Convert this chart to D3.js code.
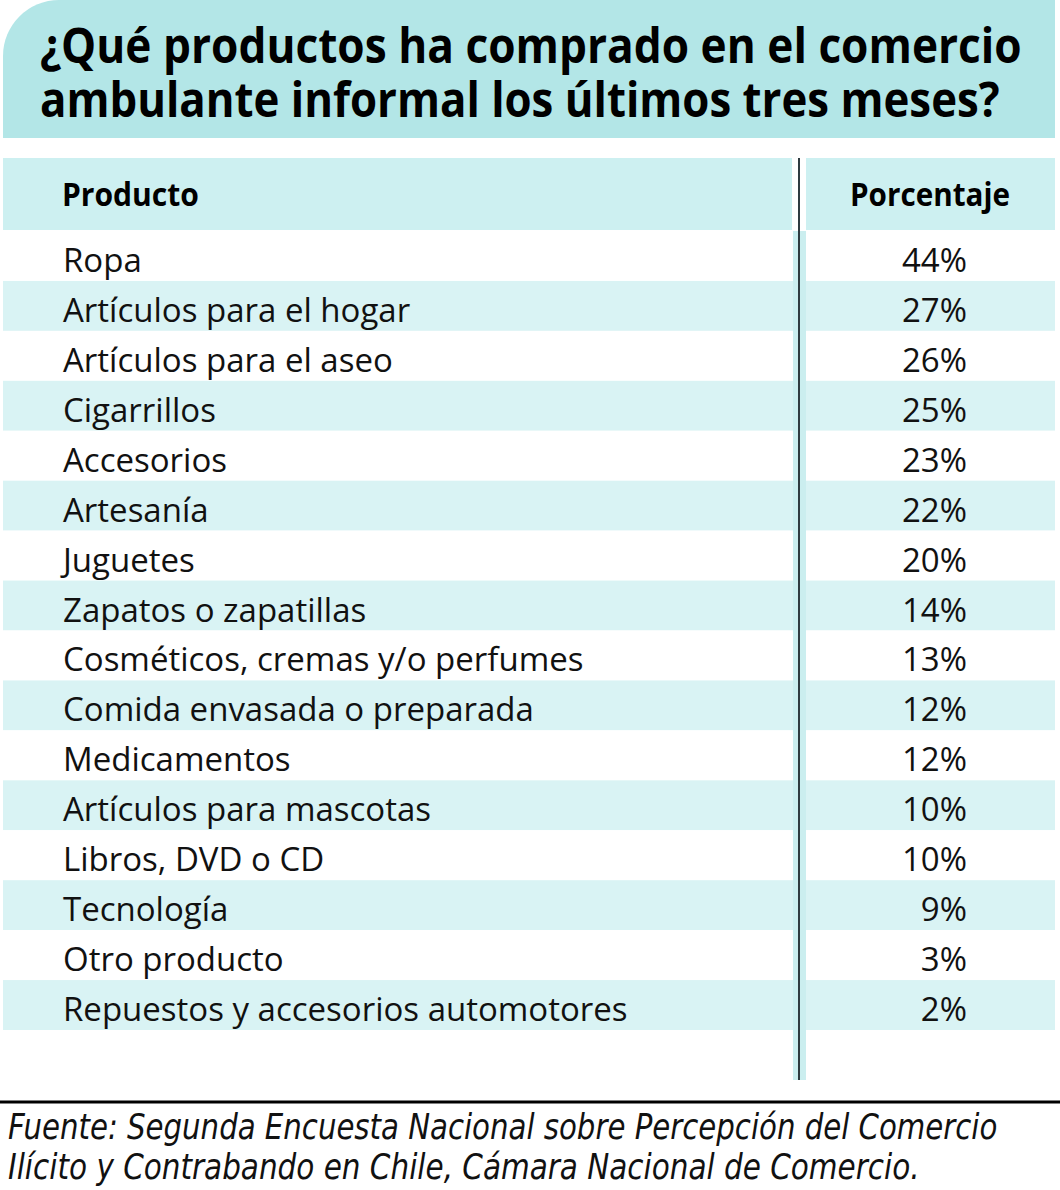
<!DOCTYPE html>
<html>
<head>
<meta charset="utf-8">
<script src="https://cdn.jsdelivr.net/npm/d3@7"></script>
<style>
  body { margin: 0; background: #fff; }
  svg { display: block; }
</style>
</head>
<body>
<div id="chart"></div>
<script>

// datos de la tabla
var titleLines = ["¿Qué productos ha comprado en el comercio",
                  "ambulante informal los últimos tres meses?"];
var headers = ["Producto", "Porcentaje"];
var products = ["Ropa", "Artículos para el hogar", "Artículos para el aseo", "Cigarrillos",
    "Accesorios", "Artesanía", "Juguetes", "Zapatos o zapatillas",
    "Cosméticos, cremas y/o perfumes", "Comida envasada o preparada", "Medicamentos",
    "Artículos para mascotas", "Libros, DVD o CD", "Tecnología", "Otro producto",
    "Repuestos y accesorios automotores"];
var percentages = [44, 27, 26, 25, 23, 22, 20, 14, 13, 12, 12, 10, 10, 9, 3, 2];
var sourceLines = ["Fuente: Segunda Encuesta Nacional sobre Percepción del Comercio",
                   "Ilícito y Contrabando en Chile, Cámara Nacional de Comercio."];

var width = 1060, height = 1190;

var svg = d3.select("#chart").append("svg")
    .attr("width", width)
    .attr("height", height);

// estrecha un texto en horizontal hasta el ancho pedido
function fitWidth(sel, widths) {
    sel.each(function (d, i) {
        var t = d3.select(this);
        var w = this.getComputedTextLength();
        var x = +t.attr("x"), yy = +t.attr("y");
        var k = widths[i] / w;
        t.attr("x", 0).attr("y", 0)
            .attr("transform", "translate(" + x + "," + yy + ") scale(" + k + ",1)");
    });
}

// caja del titulo con esquina redondeada
var r = 56;
svg.append("path")
    .attr("d", "M3,138 L3," + r + " A" + r + "," + r + " 0 0 1 " + (3 + r) + ",0 L1055,0 L1055,138 Z")
    .attr("fill", "#b3e6e7");

svg.selectAll(".title")
    .data(titleLines)
    .enter().append("text")
    .attr("class", "title")
    .attr("x", 40)
    .attr("y", function (d, i) { return 63 + i * 54; })
    .style("font-family", "'Open Sans', sans-serif")
    .style("font-weight", 700)
    .style("font-size", "48px")
    .attr("fill", "#000")
    .text(function (d) { return d; })
    .call(fitWidth, [982, 960]);

// escala de filas
var y = d3.scaleBand()
    .domain(d3.range(products.length))
    .range([231, 1030]);

var leftX = 3, divX = 799, rightX = 1055;

// encabezado
svg.append("rect")
    .attr("x", leftX).attr("y", 158)
    .attr("width", 792 - leftX).attr("height", 72)
    .attr("fill", "#cdf0f1");
svg.append("rect")
    .attr("x", 806).attr("y", 158)
    .attr("width", rightX - 806).attr("height", 72)
    .attr("fill", "#cdf0f1");

svg.selectAll(".header")
    .data(headers)
    .enter().append("text")
    .attr("class", "header")
    .attr("x", function (d, i) { return i === 0 ? 62 : 850; })
    .attr("y", 206)
    .style("font-family", "'Open Sans', sans-serif")
    .style("font-weight", 700)
    .style("font-size", "33px")
    .text(function (d) { return d; })
    .call(fitWidth, [137, 160]);

// filas alternadas
var row = svg.selectAll(".row")
    .data(products)
    .enter().append("g")
    .attr("class", "row")
    .attr("transform", function (d, i) { return "translate(0," + y(i) + ")"; });

row.append("rect")
    .attr("x", leftX)
    .attr("width", rightX - leftX)
    .attr("height", y.bandwidth())
    .attr("fill", function (d, i) { return i % 2 ? "#d9f3f4" : "#ffffff"; });

row.append("text")
    .attr("x", 63)
    .attr("y", y.bandwidth() / 2 + 16)
    .style("font-family", "'Open Sans', sans-serif")
    .style("font-size", "33px")
    .attr("fill", "#111")
    .text(function (d) { return d; });

row.append("text")
    .attr("x", 967)
    .attr("y", y.bandwidth() / 2 + 16)
    .attr("text-anchor", "end")
    .style("font-family", "'Open Sans', sans-serif")
    .style("font-size", "33px")
    .attr("fill", "#111")
    .text(function (d, i) { return percentages[i] + "%"; });

// separador de columnas
svg.append("rect")
    .attr("x", 793).attr("y", 231)
    .attr("width", 13).attr("height", 1080 - 231)
    .attr("fill", "#cbeeef");
svg.append("line")
    .attr("x1", divX).attr("x2", divX)
    .attr("y1", 158).attr("y2", 1080)
    .attr("stroke", "#2f3b40")
    .attr("stroke-width", 2);

// linea inferior y fuente
svg.append("line")
    .attr("x1", 0).attr("x2", width)
    .attr("y1", 1102).attr("y2", 1102)
    .attr("stroke", "#000")
    .attr("stroke-width", 3);

svg.selectAll(".source")
    .data(sourceLines)
    .enter().append("text")
    .attr("class", "source")
    .attr("x", 8)
    .attr("y", function (d, i) { return 1139 + i * 40; })
    .style("font-family", "'Liberation Sans Narrow', 'DejaVu Sans Condensed', sans-serif")
    .style("font-style", "italic")
    .style("font-size", "36px")
    .attr("fill", "#111")
    .text(function (d) { return d; })
    .call(fitWidth, [990, 912]);

</script>
</body>
</html>
